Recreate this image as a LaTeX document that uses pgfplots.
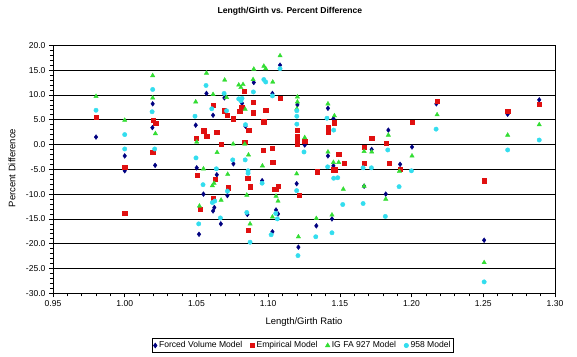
\documentclass[border=0pt]{standalone}
\usepackage{fontspec}
\setmainfont{Liberation Sans}
\usepackage{pgfplots}
\pgfplotsset{compat=1.18}
\definecolor{fvm}{HTML}{000080}
\definecolor{emp}{HTML}{E01010}
\definecolor{igf}{HTML}{33DD33}
\definecolor{mod}{HTML}{33DDEE}
\begin{document}
\begin{tikzpicture}
\begin{axis}[
  scale only axis, width=502bp, height=248bp,
  xmin=0.95, xmax=1.30, ymin=-30, ymax=20,
  xtick={0.95,1.00,1.05,1.10,1.15,1.20,1.25,1.30},
  minor x tick num=4,
  ytick={-30,-25,-20,-15,-10,-5,0,5,10,15,20},
  minor y tick num=4,
  tick align=outside, xtick pos=lower, ytick pos=lower,
  major tick length=4bp, minor tick length=3bp,
  tick style={black, line width=0.6pt},
  axis line style={black, line width=0.8pt},
  ymajorgrids, major grid style={black, line width=0.8pt},
  /pgf/number format/assume math mode=true,
  tick label style={font=\fontsize{8.6}{10}\selectfont},
  xticklabel style={/pgf/number format/.cd, fixed, fixed zerofill, precision=2},
  yticklabel style={/pgf/number format/.cd, fixed, fixed zerofill, precision=1},
  title={Length/Girth vs. Percent Difference},
  title style={at={(axis description cs:0.472,1.114)}, anchor=center, font=\fontsize{8.6}{10}\selectfont\bfseries},
  xlabel={Length/Girth Ratio},
  xlabel style={at={(axis description cs:0.5,-0.1157)}, anchor=center, font=\fontsize{9.5}{11}\selectfont},
  ylabel={Percent Difference},
  ylabel style={at={(axis description cs:-0.0817,0.505)}, anchor=center, font=\fontsize{9.5}{11}\selectfont},
  legend columns=4,
  legend style={at={(axis description cs:0.498,-0.2105)}, anchor=center, draw=black, line width=0.6pt,
    font=\fontsize{8.6}{10}\selectfont, inner sep=1.0bp,
    /tikz/every even column/.append style={column sep=6bp}},
  legend cell align=left,
]
\coordinate (sw) at (rel axis cs:0,0);
\addplot[only marks, mark=diamond*, mark size=2.4bp, color=fvm] coordinates {
(0.98,1.5) (1.00,-2.3) (1.00,-5.3) (1.0195,8.2) (1.0193,3.4) (1.0212,-4.2)
(1.0495,3.9) (1.0502,-4.7) (1.0549,-10.0) (1.0518,-18.1) (1.057,10.3)
(1.0616,5.9) (1.0642,-6.1) (1.0625,-12.7) (1.0616,-13.4) (1.0695,9.4)
(1.067,-16.0) (1.0716,-10.3) (1.0758,-3.9) (1.0818,8.3) (1.0842,3.7)
(1.0855,-14.1) (1.090,12.5) (1.0958,-7.3) (1.103,10.3) (1.1030,-17.6)
(1.1083,16.0) (1.1055,-13.2) (1.1069,-14.0) (1.1204,8.0) (1.1199,-7.9)
(1.1211,-20.7) (1.1255,-0.1) (1.1336,-16.4) (1.1417,7.3) (1.1455,5.2)
(1.1417,-2.3) (1.1455,-4.3) (1.1445,-15.0) (1.1669,-8.4) (1.1722,-1.0)
(1.1838,2.9) (1.182,-10.0) (1.192,-4.0) (1.2003,-0.5) (1.2173,8.2)
(1.2506,-19.3) (1.267,6.1) (1.289,9.0)
};
\addlegendentry{Forced Volume Model}
\addplot[only marks, mark=square*, mark size=2.1bp, color=emp] coordinates {
(0.98,5.5) (1.00,-4.5) (1.00,-13.8) (1.02,4.9) (1.0216,4.3) (1.0195,-1.6)
(1.0497,1.2) (1.055,2.8) (1.0572,1.6) (1.0505,-6.2) (1.0525,-13.1)
(1.0616,8.0) (1.0642,2.4) (1.063,-7.0) (1.0616,-10.9) (1.067,0.0)
(1.0695,6.8) (1.0714,5.9) (1.0721,-8.7) (1.0758,5.2) (1.0802,6.7)
(1.0816,7.6) (1.0835,10.8) (1.0837,0.4) (1.0865,2.9) (1.0858,-6.8)
(1.0874,-8.5) (1.0862,-17.2) (1.0897,8.6) (1.0897,6.4) (1.0969,4.6)
(1.0983,6.9) (1.0965,-1.2) (1.1028,-0.7) (1.1032,-3.5) (1.1042,-9.0)
(1.1083,9.4) (1.1069,-8.4) (1.1055,-9.0) (1.1204,2.9) (1.1204,1.7)
(1.1204,0.6) (1.1204,0.0) (1.1255,0.6) (1.1215,-10.3) (1.134,-5.5)
(1.1417,3.5) (1.1417,2.4) (1.1462,4.4) (1.1492,-1.9) (1.1455,-5.1)
(1.1469,-5.1) (1.1529,-3.7) (1.1669,-0.6) (1.1722,1.2) (1.1669,-3.7)
(1.1822,0.2) (1.1843,-3.8) (1.192,-5.0) (1.2003,4.5) (1.2178,8.8)
(1.2508,-7.3) (1.267,6.75) (1.289,8.2)
};
\addlegendentry{Empirical Model}
\addplot[only marks, mark=triangle*, mark size=2.5bp, color=igf] coordinates {
(0.98,9.7) (1.00,4.9) (1.0195,13.9) (1.0195,9.4) (1.0214,2.2)
(1.0495,8.6) (1.0502,0.5) (1.0521,-12.4) (1.0549,-4.9) (1.057,14.4)
(1.0616,10.1) (1.0623,-7.8) (1.0611,-8.3) (1.0644,-1.6) (1.0672,-11.2)
(1.0697,13.0) (1.071,9.5) (1.0718,-6.0) (1.0756,0.1) (1.0795,12.0)
(1.0825,12.1) (1.081,11.5) (1.084,7.1) (1.0837,0.1) (1.0863,-2.1)
(1.0851,-10.2) (1.0874,-16.0) (1.0895,13.1) (1.090,15.2) (1.097,15.8)
(1.0983,15.3) (1.096,-4.3) (1.1032,12.6) (1.103,-14.6) (1.1083,17.9)
(1.1055,-10.4) (1.1069,-11.4) (1.1204,9.6) (1.1204,8.6) (1.12,7.2)
(1.1199,-5.9) (1.1211,-18.6) (1.1255,1.4) (1.1336,-14.9) (1.1417,8.2)
(1.1462,5.8) (1.1417,-1.5) (1.1455,-3.6) (1.1492,-3.6) (1.1445,-14.2)
(1.1524,-9.0) (1.1669,-1.4) (1.1722,-1.5) (1.1669,-8.4) (1.1838,1.9)
(1.182,-11.0) (1.1915,-5.4) (1.2003,-2.3) (1.2178,6.0) (1.2506,-23.8)
(1.267,1.9) (1.289,4.0)
};
\addlegendentry{IG FA 927 Model}
\addplot[only marks, mark=*, mark size=2.2bp, color=mod] coordinates {
(0.98,6.9) (1.00,2.0) (1.00,-0.9) (1.0195,11.1) (1.0191,6.6) (1.0209,-0.9)
(1.049,5.7) (1.0497,-2.7) (1.0516,-16.0) (1.0546,-8.1) (1.0567,11.9)
(1.0607,7.2) (1.0639,-4.9) (1.0628,-11.4) (1.0611,-11.7) (1.0667,-14.8)
(1.0693,10.3) (1.071,6.8) (1.0716,-9.4) (1.0753,-3.1) (1.0795,9.2)
(1.0818,9.3) (1.081,8.8) (1.0842,4.0) (1.084,-3.1) (1.0860,-5.3)
(1.0860,-5.8) (1.0851,-13.7) (1.0874,-19.7) (1.0897,10.6) (1.097,13.1)
(1.0983,12.6) (1.0958,-7.8) (1.103,9.8) (1.1021,-18.2) (1.1083,15.3)
(1.1053,-13.9) (1.1064,-15.0) (1.12,6.8) (1.12,5.7) (1.12,4.1)
(1.1199,-9.3) (1.1208,-22.4) (1.125,-1.5) (1.1332,-18.6) (1.141,5.3)
(1.1457,2.9) (1.1415,-4.5) (1.1457,-6.8) (1.1485,-6.7) (1.1445,-17.8)
(1.152,-12.1) (1.1662,-4.7) (1.172,-4.7) (1.1662,-11.9) (1.1834,-1.1)
(1.1817,-14.5) (1.1913,-8.5) (1.1999,-5.3) (1.2171,3.1) (1.2506,-27.7)
(1.267,-1.1) (1.289,0.9)
};
\addlegendentry{958 Model}
\end{axis}
\useasboundingbox ([shift={(-53bp,-63.7bp)}]sw) rectangle ([shift={(524bp,293.3bp)}]sw);
\end{tikzpicture}
\end{document}
